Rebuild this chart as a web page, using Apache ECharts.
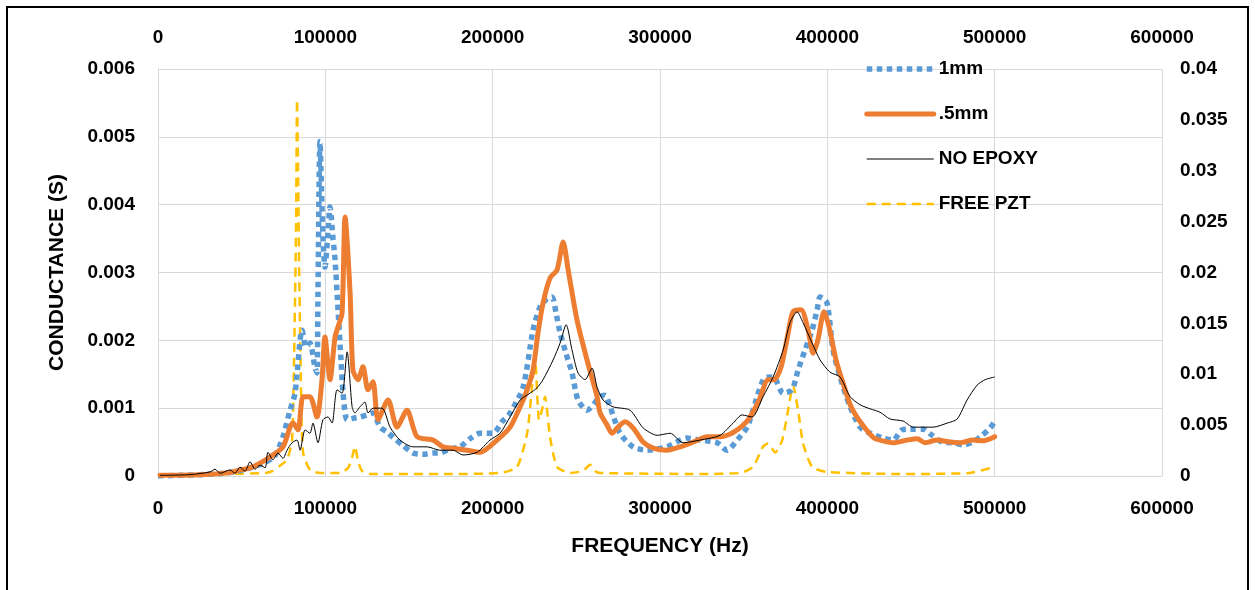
<!DOCTYPE html>
<html>
<head>
<meta charset="utf-8">
<script src="https://cdn.jsdelivr.net/npm/echarts@6/dist/echarts.min.js"></script>
<style>
html,body{margin:0;padding:0;background:#fff;}
#frame{position:absolute;left:6px;top:6px;width:1243px;height:600px;border:2px solid #000;box-sizing:border-box;}
#chart{position:absolute;left:0;top:0;width:1255px;height:590px;}
</style>
</head>
<body>
<div id="frame"></div>
<div id="chart"></div>
<script>
// Tick labels
const xTicks = [0, 100000, 200000, 300000, 400000, 500000, 600000];
const yLeftTicks = [0, 0.001, 0.002, 0.003, 0.004, 0.005, 0.006];
const yRightTicks = [0, 0.005, 0.01, 0.015, 0.02, 0.025, 0.03, 0.035, 0.04];
const seriesNames = ['1mm', '.5mm', 'NO EPOXY', 'FREE PZT'];

// 1mm (left axis)
const mm1_f = [0,25100,43000,55000,64000,69900,74700,78900,81900,86100,88500,90800,93800,95000,95600,96800,98600,99800,101600,102800,104600,105800,107600,109400,110600,113000,116500,120700,124900,128500,132700,136900,140500,146400,152400,158400,164400,168500,174500,180500,186500,192400,200200,205600,210400,218200,224100,228300,231900,235500,237900,240300,243900,247400,251000,256400,264200,267200,270200,276100,283900,292300,304200,316200,323900,334100,340100,346100,352100,355600,362800,367700,373600,378900,382500,386700,390900,393900,395700,399800,403400,407600,413600,419600,425600,433300,439300,444700,451300,457200,462600,468600,475200,481100,487100,492500,497300,500000];
const mm1_g = [0,0.00002,0.00005,0.00012,0.0002,0.0003,0.00058,0.00097,0.00122,0.00215,0.0019,0.00196,0.0016,0.00152,0.0027,0.00493,0.0035,0.00308,0.0036,0.00397,0.0035,0.00319,0.00245,0.0017,0.00122,0.00083,0.00085,0.00087,0.0009,0.00093,0.00072,0.00065,0.00057,0.00045,0.00034,0.00032,0.00034,0.00034,0.0004,0.00043,0.00055,0.00063,0.00063,0.0008,0.00093,0.00131,0.00215,0.00249,0.0026,0.00264,0.0024,0.00211,0.0018,0.00152,0.00112,0.00097,0.00117,0.00119,0.00102,0.00063,0.00043,0.00038,0.00043,0.00056,0.00053,0.00049,0.00038,0.00053,0.00072,0.00097,0.00145,0.00146,0.00122,0.00127,0.00156,0.00186,0.00215,0.00245,0.00264,0.00255,0.00186,0.00146,0.00102,0.00072,0.00063,0.00056,0.00053,0.00068,0.00069,0.00069,0.0006,0.0005,0.00049,0.00046,0.0005,0.0006,0.00071,0.0008];

// .5mm (left axis)
const mm05_f = [1200,25100,43000,49000,55000,61000,66900,74700,78900,80700,83700,86700,90800,95000,98000,99800,102800,105800,107600,110000,111800,114800,116500,119500,122500,125500,128500,131500,137500,142800,148800,154800,164400,170300,176300,184700,192400,202600,210400,216400,220600,224100,227100,230100,234300,238500,242100,245100,250400,256400,262400,264200,268400,271300,274900,279100,283900,289900,295900,304200,312000,319800,328100,336500,344300,352700,359300,364600,368200,372400,376600,379500,384300,388500,391500,394400,398000,401000,405200,409400,414200,420200,427900,436400,439300,447700,453700,458400,465600,473400,479300,487100,493100,500000];
const mm05_g = [0.00001,0.00002,0.00005,0.00009,0.00012,0.00019,0.00028,0.00043,0.00072,0.00078,0.00068,0.00117,0.00117,0.00087,0.00142,0.00205,0.00142,0.00205,0.0022,0.0024,0.00382,0.0027,0.00156,0.00142,0.00161,0.00127,0.00139,0.00083,0.00112,0.00072,0.00097,0.00058,0.00053,0.00043,0.00041,0.00038,0.00035,0.00053,0.00072,0.00102,0.00127,0.00156,0.00211,0.00255,0.00292,0.00304,0.00345,0.00304,0.0023,0.00171,0.00117,0.00093,0.00075,0.00063,0.00072,0.0008,0.00071,0.0005,0.00041,0.00038,0.00043,0.0005,0.00058,0.00058,0.00065,0.00083,0.00112,0.00142,0.00142,0.00161,0.00211,0.00242,0.00245,0.00215,0.00181,0.00201,0.00242,0.0022,0.00171,0.00137,0.00102,0.00078,0.00056,0.0005,0.00049,0.00053,0.00055,0.00049,0.00053,0.0005,0.00049,0.00053,0.00052,0.00058];

// NO EPOXY (left axis)
const noep_f = [1200,19100,31100,34100,37100,43000,46000,49000,52000,55000,58000,61000,64000,65700,68700,71700,74700,77100,80100,83100,84900,87900,90800,92600,95600,98600,101600,104000,107000,110000,113000,116000,117700,120700,123700,125500,128500,133900,138700,144600,152400,160800,168500,176300,182300,190700,198400,204400,210400,216400,222300,226500,230100,236100,240300,243900,247400,251000,255200,259400,262400,266000,271900,282100,289900,298300,306100,313800,323900,335900,343700,349100,355000,361600,367600,373600,377700,381900,385500,390900,395700,401600,407600,413600,419600,425600,431500,437500,445300,451300,457200,463200,471600,477600,483500,489500,494300,500000];
const noep_g = [0.00001,0.00002,0.00006,0.0001,0.00004,0.00009,0.00004,0.00013,0.00007,0.00021,0.0001,0.00016,0.00012,0.00035,0.00024,0.00034,0.00026,0.00038,0.00049,0.00053,0.00038,0.00068,0.00063,0.00078,0.00049,0.00083,0.00087,0.00078,0.00127,0.00122,0.00183,0.00102,0.00093,0.00102,0.00109,0.00093,0.001,0.001,0.00072,0.00053,0.00043,0.00043,0.00038,0.00038,0.00031,0.00035,0.00053,0.00063,0.00087,0.00112,0.00122,0.0013,0.00142,0.00171,0.00196,0.00223,0.00186,0.00152,0.00142,0.00159,0.00131,0.00112,0.00102,0.00097,0.00071,0.0006,0.00063,0.00049,0.00053,0.0006,0.00078,0.0009,0.00087,0.00117,0.00146,0.00186,0.00226,0.00242,0.00226,0.00196,0.00171,0.00153,0.00146,0.00117,0.00105,0.00099,0.00094,0.00084,0.00081,0.00072,0.00072,0.00072,0.00078,0.00084,0.00112,0.00134,0.00142,0.00146];

// FREE PZT (secondary axes)
const free_f = [1200,43000,64000,68700,72900,77100,80100,81300,82500,83100,83700,84300,85500,86700,90800,96800,108800,113600,116000,117700,119500,121900,126700,174500,204400,214600,220600,223500,225300,227700,229500,231300,234300,238500,246300,254000,258200,261200,264200,324000,347900,355600,361600,364600,368800,373000,376600,379500,382500,385500,390900,399900,443500,485300,500000];
const free_g = [0.0001,0.0002,0.0003,0.0005,0.001,0.0016,0.0035,0.0114,0.0245,0.037,0.03,0.0212,0.0082,0.0023,0.0006,0.0003,0.0003,0.0008,0.0018,0.0029,0.0015,0.0005,0.0002,0.0002,0.0003,0.0009,0.0042,0.0087,0.0117,0.0055,0.0065,0.0078,0.0038,0.0009,0.0003,0.0005,0.0011,0.0005,0.0003,0.0002,0.0003,0.0009,0.0029,0.0032,0.0023,0.0035,0.0065,0.0089,0.0065,0.0032,0.0009,0.0004,0.0002,0.0003,0.0009];

const pair = (f, g) => f.map((x, i) => [x, g[i]]);
const FONT = 'Liberation Sans';
const labelStyle = { color: '#000', fontFamily: FONT, fontWeight: 'bold', fontSize: 19 };
const gridColor = '#D9D9D9';

const chart = echarts.init(document.getElementById('chart'), null, { renderer: 'canvas' });
const xMin = xTicks[0], xMax = xTicks[xTicks.length - 1], xInt = xTicks[1] - xTicks[0];
const option = {
  animation: false,
  backgroundColor: 'transparent',
  grid: { left: 158, right: 93, top: 69, bottom: 114, containLabel: false },
  legend: {
    data: seriesNames,
    orient: 'vertical',
    left: 859, top: 54,
    itemWidth: 67, itemHeight: 20, itemGap: 25,
    itemStyle: { opacity: 0 },
    lineStyle: { width: 'inherit', type: 'inherit', opacity: 1 },
    textStyle: { color: '#000', fontFamily: FONT, fontWeight: 'bold', fontSize: 19, lineHeight: 20 },
    backgroundColor: 'transparent'
  },
  xAxis: [
    {
      type: 'value', position: 'bottom', min: xMin, max: xMax, interval: xInt,
      name: 'FREQUENCY (Hz)', nameLocation: 'middle', nameGap: 60,
      nameTextStyle: { color: '#000', fontFamily: FONT, fontWeight: 'bold', fontSize: 21 },
      axisLine: { show: true, lineStyle: { color: gridColor } },
      axisTick: { show: false },
      axisLabel: Object.assign({ margin: 23, formatter: v => String(v) }, labelStyle),
      splitLine: { show: true, lineStyle: { color: gridColor, width: 1 } }
    },
    {
      type: 'value', position: 'top', min: xMin, max: xMax, interval: xInt,
      axisLine: { show: false }, axisTick: { show: false },
      axisLabel: Object.assign({ margin: 22, formatter: v => String(v) }, labelStyle),
      splitLine: { show: false }
    }
  ],
  yAxis: [
    {
      type: 'value', position: 'left', min: yLeftTicks[0], max: yLeftTicks[yLeftTicks.length - 1], interval: yLeftTicks[1] - yLeftTicks[0],
      name: 'CONDUCTANCE (S)', nameLocation: 'middle', nameGap: 90, nameRotate: 90,
      nameTextStyle: { color: '#000', fontFamily: FONT, fontWeight: 'bold', fontSize: 21 },
      axisLine: { show: true, lineStyle: { color: gridColor } },
      axisTick: { show: false },
      axisLabel: Object.assign({ margin: 23, formatter: v => String(+v.toFixed(4)) }, labelStyle),
      splitLine: { show: true, lineStyle: { color: gridColor, width: 1 } }
    },
    {
      type: 'value', position: 'right', min: yRightTicks[0], max: yRightTicks[yRightTicks.length - 1], interval: yRightTicks[1] - yRightTicks[0],
      axisLine: { show: true, lineStyle: { color: gridColor } },
      axisTick: { show: false },
      axisLabel: Object.assign({ margin: 18, formatter: v => String(+v.toFixed(4)) }, labelStyle),
      splitLine: { show: false }
    }
  ],
  series: [
    {
      name: seriesNames[0], type: 'line', xAxisIndex: 0, yAxisIndex: 0, symbol: 'none', smooth: 0.25, z: 3,
      data: pair(mm1_f, mm1_g),
      itemStyle: { color: '#5B9BD5' },
      lineStyle: { color: '#5B9BD5', width: 5.5, type: [5.5, 4.5], cap: 'butt' }
    },
    {
      name: seriesNames[1], type: 'line', xAxisIndex: 0, yAxisIndex: 0, symbol: 'none', smooth: 0.25, z: 4,
      data: pair(mm05_f, mm05_g),
      itemStyle: { color: '#ED7D31' },
      lineStyle: { color: '#ED7D31', width: 5, cap: 'round', join: 'round' }
    },
    {
      name: seriesNames[2], type: 'line', xAxisIndex: 0, yAxisIndex: 0, symbol: 'none', smooth: 0.25, z: 5,
      data: pair(noep_f, noep_g),
      itemStyle: { color: '#000000' },
      lineStyle: { color: '#000000', width: 1 }
    },
    {
      name: seriesNames[3], type: 'line', xAxisIndex: 1, yAxisIndex: 1, symbol: 'none', smooth: 0.2, z: 2,
      data: pair(free_f, free_g),
      itemStyle: { color: '#FFC000' },
      lineStyle: { color: '#FFC000', width: 2.5, type: [9, 6] }
    }
  ]
};
chart.setOption(option);
</script>
</body>
</html>
